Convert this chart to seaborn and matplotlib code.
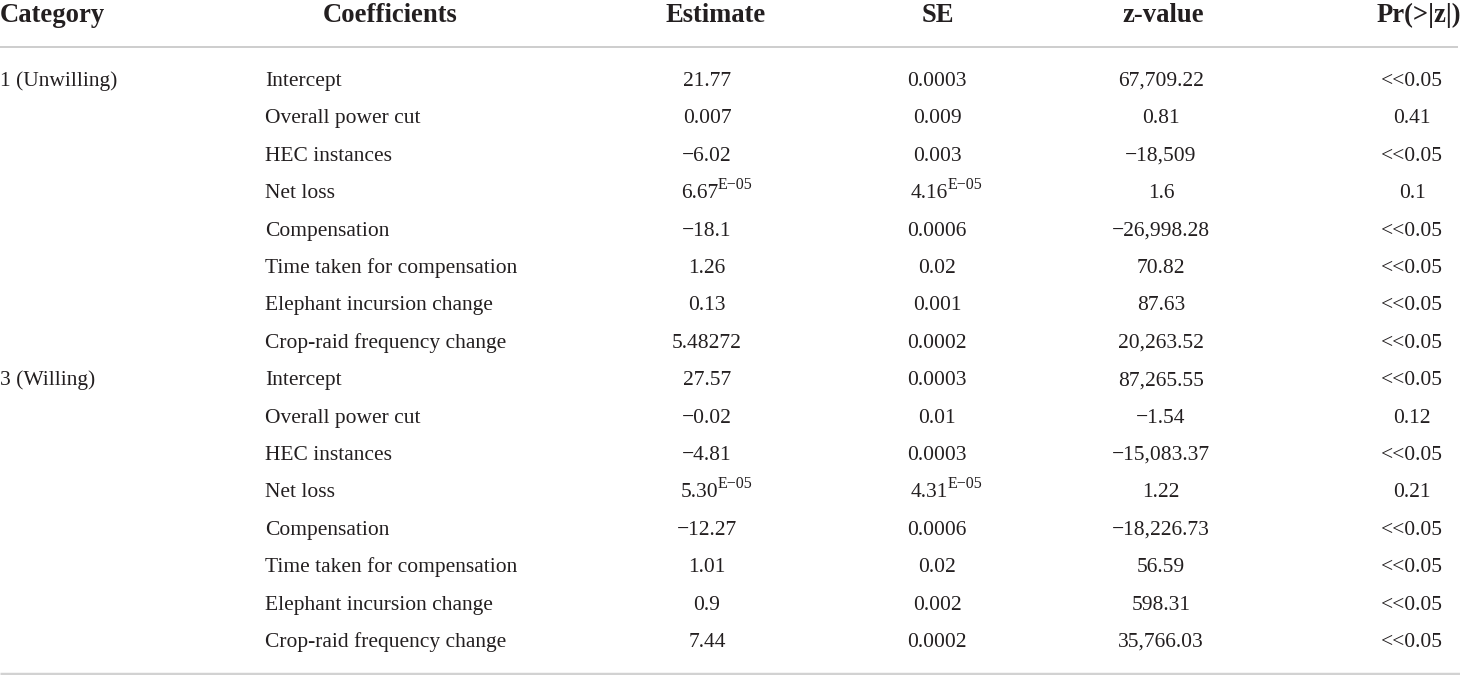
import matplotlib
matplotlib.use("Agg")
import matplotlib.pyplot as plt
import seaborn as sns

# Table contents
headers = ["Category", "Coefficients", "Estimate", "SE", "z-value", "Pr(>|z|)"]
categories = ["1 (Unwilling)", "3 (Willing)"]
coefficients = ["Intercept", "Overall power cut", "HEC instances", "Net loss",
                "Compensation", "Time taken for compensation",
                "Elephant incursion change", "Crop-raid frequency change"]
estimate = ["21.77", "0.007", "\u22126.02", ("6.67", "E\u221205"), "\u221218.1", "1.26", "0.13", "5.48272",
            "27.57", "\u22120.02", "\u22124.81", ("5.30", "E\u221205"), "\u221212.27", "1.01", "0.9", "7.44"]
se = ["0.0003", "0.009", "0.003", ("4.16", "E\u221205"), "0.0006", "0.02", "0.001", "0.0002",
      "0.0003", "0.01", "0.0003", ("4.31", "E\u221205"), "0.0006", "0.02", "0.002", "0.0002"]
z_value = ["67,709.22", "0.81", "\u221218,509", "1.6", "\u221226,998.28", "70.82", "87.63", "20,263.52",
           "87,265.55", "\u22121.54", "\u221215,083.37", "1.22", "\u221218,226.73", "56.59", "598.31", "35,766.03"]
p_value = ["<<0.05", "0.41", "<<0.05", "0.1", "<<0.05", "<<0.05", "<<0.05", "<<0.05",
           "<<0.05", "0.12", "<<0.05", "0.21", "<<0.05", "<<0.05", "<<0.05", "<<0.05"]

sns.set_theme(style="white")
plt.rcParams['font.family'] = ['Liberation Serif', 'DejaVu Serif']

W, H = 1460, 675
fig = plt.figure(figsize=(W / 100, H / 100), dpi=100)
ax = fig.add_axes([0, 0, 1, 1])
ax.set_xlim(0, W)
ax.set_ylim(H, 0)
ax.axis("off")

txt = "#231f20"
body_fs = 15.5
head_fs = 19.2
sup_fs = 11.5

# header
head_x = [0, 390, 716, 938, 1163, 1419]
head_ha = ["left", "center", "center", "center", "center", "center"]
for h, x, ha in zip(headers, head_x, head_ha):
    ax.text(x, 22, h, ha=ha, va="baseline", fontsize=head_fs, fontweight="bold", color=txt)

ax.plot([0, 1458], [46.5, 46.5], color="#c9c9c9", lw=1.3, solid_capstyle="butt")
ax.plot([0, 1460], [674, 674], color="#d2d2d2", lw=2.5, solid_capstyle="butt")

col_x = [707, 937, 1161, 1412]
y0, dy = 86, 37.4


def put(x, y, val):
    if isinstance(val, tuple):
        # number followed by a raised exponent
        base, sup = val
        ax.text(x + 11, y, base, ha="right", va="baseline", fontsize=body_fs, color=txt)
        ax.text(x + 11, y - 9.5, sup, ha="left", va="baseline", fontsize=sup_fs, color=txt)
    else:
        ax.text(x, y, val, ha="center", va="baseline", fontsize=body_fs, color=txt)


for i in range(len(estimate)):
    y = y0 + dy * i
    if i % len(coefficients) == 0:
        ax.text(0, y, categories[i // len(coefficients)], ha="left", va="baseline", fontsize=body_fs, color=txt)
    ax.text(265, y, coefficients[i % len(coefficients)], ha="left", va="baseline", fontsize=body_fs, color=txt)
    for cx, col in zip(col_x, [estimate, se, z_value, p_value]):
        put(cx, y, col[i])

fig.savefig("out.png", dpi=100, facecolor="white")
